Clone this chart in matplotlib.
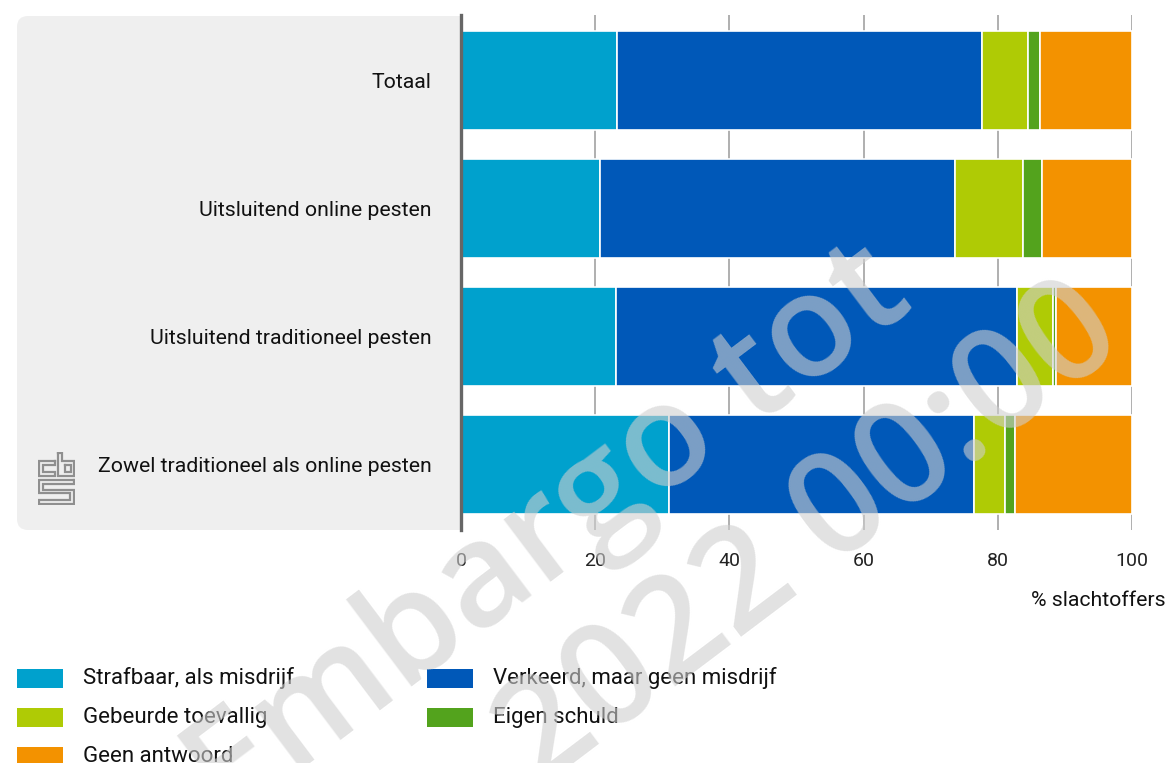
import matplotlib
matplotlib.use('Agg')
import matplotlib.pyplot as plt
from matplotlib.patches import FancyBboxPatch, Rectangle
from matplotlib.transforms import IdentityTransform

plt.rcParams['font.family'] = ['Roboto', 'DejaVu Sans']

# data (% slachtoffers)
categories = ['Totaal', 'Uitsluitend online pesten',
              'Uitsluitend traditioneel pesten', 'Zowel traditioneel als online pesten']
strafbaar = [23.3, 20.7, 23.1, 31.0]
verkeerd = [54.3, 52.9, 59.7, 45.5]
toevallig = [6.9, 10.1, 5.5, 4.6]
eigen_schuld = [1.8, 2.9, 0.4, 1.5]
geen_antwoord = [13.7, 13.4, 11.3, 17.4]

series_names = ['Strafbaar, als misdrijf', 'Verkeerd, maar geen misdrijf',
                'Gebeurde toevallig', 'Eigen schuld', 'Geen antwoord']
series_values = [strafbaar, verkeerd, toevallig, eigen_schuld, geen_antwoord]
colors = ['#00a1cd', '#0058b8', '#afcb05', '#53a31d', '#f39200']
xticks = [0, 20, 40, 60, 80, 100]

W, H = 1170, 763
fig = plt.figure(figsize=(W / 100, H / 100), dpi=100)

def fx(x):
    return x / W

def fy(y):
    return 1 - y / H

# grijs paneel achter de categorieen
panel = FancyBboxPatch((17, H - 530), 470, 514, boxstyle='round,pad=0,rounding_size=11',
                       transform=IdentityTransform(), facecolor='#efefef', edgecolor='none',
                       zorder=-1)
fig.patches.append(panel)

ax = fig.add_axes([fx(461), fy(530), fx(1132) - fx(461), fy(15) - fy(530)])
ax.set_facecolor('white')

y = list(range(len(categories)))
left = [0] * len(categories)
for name, vals, c in zip(series_names, series_values, colors):
    ax.barh(y, vals, left=left, height=0.775, color=c, edgecolor='white',
            linewidth=1.2, label=name, zorder=2)
    left = [l + v for l, v in zip(left, vals)]

ax.set_xlim(0, 100)
ax.set_ylim(3.515, -0.515)
ax.set_xticks(xticks)
ax.set_xticklabels([str(t) for t in xticks])
ax.set_yticks(y)
ax.set_yticklabels(categories)
ax.tick_params(axis='x', length=0, pad=16, labelsize=14, labelcolor='#222222')
ax.tick_params(axis='y', length=0, pad=21, labelsize=15.3, labelcolor='#111111')
ax.grid(axis='x', color='#9a9a9a', linewidth=1.1, zorder=0)
ax.set_axisbelow(True)
for s in ['top', 'right', 'bottom']:
    ax.spines[s].set_visible(False)
ax.spines['left'].set_color('#666666')
ax.spines['left'].set_linewidth(2.4)
ax.spines['left'].set_zorder(3)

fig.text(fx(1166), fy(600), '% slachtoffers', ha='right', va='center', fontsize=15.3,
         color='#111111')

# legenda
leg_pos = [(17, 678), (427, 678), (17, 717), (427, 717), (17, 756)]
for (lx, ly), name, c in zip(leg_pos, series_names, colors):
    fig.patches.append(Rectangle((lx, H - ly - 9.5), 46, 19, transform=IdentityTransform(),
                                 facecolor=c, edgecolor='none'))
    fig.text(fx(lx + 66), fy(ly), name, ha='left', va='center', fontsize=16, color='#111111')

# cbs logo
lax = fig.add_axes([fx(38), fy(505), fx(37), fy(452) - fy(505)])
lax.set_xlim(-1, 37)
lax.set_ylim(54, -1)
lax.axis('off')
logo_col = '#8f8f8f'
paths = [
    [(16, 8), (0, 8), (0, 24), (16, 24), (16, 20), (4, 20), (4, 12), (16, 12), (16, 8)],
    [(20, 0), (24, 0), (24, 8), (36, 8), (36, 24), (20, 24), (20, 0)],
    [(27, 12), (33, 12), (33, 20), (27, 20), (27, 12)],
    [(36, 28), (0, 28), (0, 42), (32, 42), (32, 49), (0, 49), (0, 53), (36, 53), (36, 38),
     (4, 38), (4, 32), (36, 32), (36, 28)],
]
for p in paths:
    lax.plot([q[0] for q in p], [q[1] for q in p], color=logo_col, linewidth=1.6,
             solid_joinstyle='miter')

# embargo watermerk
fig.text(fx(916), fy(306), 'Embargo tot', rotation=37, rotation_mode='anchor',
         ha='right', va='baseline', fontsize=104, fontweight='semibold', color='#cfcfcf',
         alpha=0.6, family='Open Sans', zorder=10)
fig.text(fx(1128), fy(345), '2022 00:00', rotation=37, rotation_mode='anchor',
         ha='right', va='baseline', fontsize=104, fontweight='semibold', color='#cfcfcf',
         alpha=0.6, family='Open Sans', zorder=10)

fig.savefig('out.png', dpi=100, facecolor='white')
